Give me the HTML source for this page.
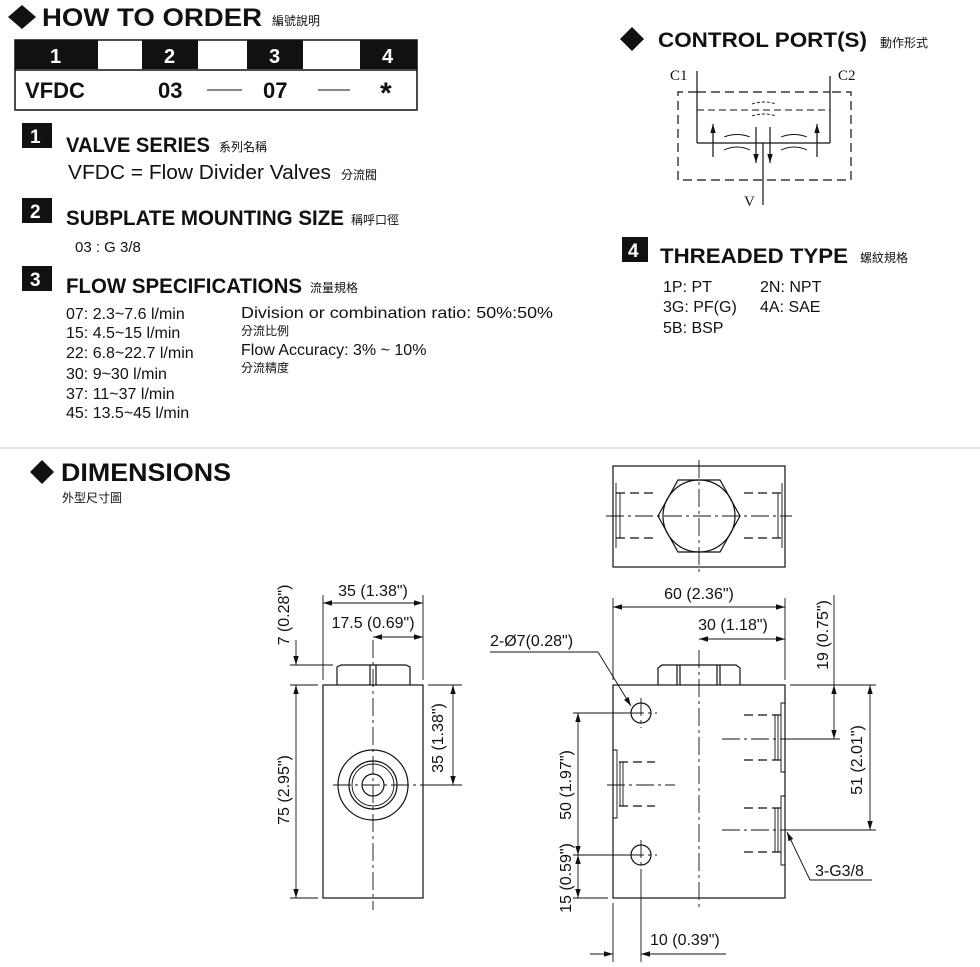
<!DOCTYPE html>
<html><head><meta charset="utf-8"><style>
html,body{margin:0;padding:0;background:#fff;}
svg{display:block;}
text{font-family:"Liberation Sans","Noto Sans CJK TC",sans-serif;fill:#111;}
.b{font-weight:bold;}
.cj{font-family:"Noto Sans CJK TC",sans-serif;font-size:12px;}
.ser{font-family:"Liberation Serif",serif;}
.l{stroke:#111;stroke-width:1.2;fill:none;}
.t{stroke:#111;stroke-width:0.9;fill:none;}
.d{stroke:#111;stroke-width:1.2;fill:none;stroke-dasharray:9 5;}
.c{stroke:#111;stroke-width:0.9;fill:none;stroke-dasharray:18 4 3 4;}
</style></head><body>
<svg width="980" height="967" viewBox="0 0 980 967" xmlns="http://www.w3.org/2000/svg">
<defs>
<marker id="a" viewBox="0 0 10 10" refX="10" refY="5" markerWidth="9" markerHeight="9" orient="auto-start-reverse" markerUnits="userSpaceOnUse"><path d="M0,2 L10,5 L0,8 z" fill="#111"/></marker>
</defs>
<path d="M8,17 L22,5 L36,17 L22,29 z" fill="#111"/>
<text x="42" y="26" class="b" font-size="25" textLength="220" lengthAdjust="spacingAndGlyphs">HOW TO  ORDER</text>
<text x="272" y="25" class="cj">編號說明</text>
<rect x="15" y="40" width="402" height="70" fill="#fff" stroke="#111" stroke-width="1.5"/>
<rect x="15" y="40" width="83" height="29" fill="#111"/>
<rect x="142" y="40" width="56" height="29" fill="#111"/>
<rect x="247" y="40" width="56" height="29" fill="#111"/>
<rect x="360" y="40" width="57" height="29" fill="#111"/>
<line x1="15" y1="70" x2="417" y2="70" stroke="#111" stroke-width="1.5"/>
<g class="b" font-size="20"><text x="50" y="63" style="fill:#fff">1</text><text x="164" y="63" style="fill:#fff">2</text><text x="269" y="63" style="fill:#fff">3</text><text x="382" y="63" style="fill:#fff">4</text></g>
<text x="25" y="98" class="b" font-size="22">VFDC</text>
<text x="158" y="98" class="b" font-size="22">03</text>
<line x1="207" y1="90" x2="242" y2="90" class="t"/>
<text x="263" y="98" class="b" font-size="22">07</text>
<line x1="318" y1="90" x2="350" y2="90" class="t"/>
<text x="380" y="103" class="b" font-size="30">*</text>
<rect x="22" y="123" width="30" height="25" fill="#111"/><text x="30" y="143" class="b" font-size="19" style="fill:#fff">1</text>
<text x="66" y="152" class="b" font-size="21" textLength="144" lengthAdjust="spacingAndGlyphs">VALVE SERIES</text>
<text x="219" y="151" class="cj">系列名稱</text>
<text x="68" y="179" font-size="20" textLength="263" lengthAdjust="spacingAndGlyphs">VFDC = Flow Divider Valves</text>
<text x="341" y="179" class="cj">分流閥</text>
<rect x="22" y="198" width="30" height="25" fill="#111"/><text x="30" y="218" class="b" font-size="19" style="fill:#fff">2</text>
<text x="66" y="225" class="b" font-size="21" textLength="278" lengthAdjust="spacingAndGlyphs">SUBPLATE MOUNTING SIZE</text>
<text x="351" y="224" class="cj">稱呼口徑</text>
<text x="75" y="252" font-size="15">03 : G 3/8</text>
<rect x="22" y="266" width="30" height="25" fill="#111"/><text x="30" y="286" class="b" font-size="19" style="fill:#fff">3</text>
<text x="66" y="293" class="b" font-size="21" textLength="236" lengthAdjust="spacingAndGlyphs">FLOW SPECIFICATIONS</text>
<text x="310" y="292" class="cj">流量規格</text>
<g font-size="16">
<text x="66" y="319">07: 2.3~7.6 l/min</text>
<text x="66" y="338">15: 4.5~15 l/min</text>
<text x="66" y="358">22: 6.8~22.7 l/min</text>
<text x="66" y="379">30: 9~30 l/min</text>
<text x="66" y="399">37: 11~37 l/min</text>
<text x="66" y="418">45: 13.5~45 l/min</text>
<text x="241" y="318" textLength="312" lengthAdjust="spacingAndGlyphs">Division or combination ratio: 50%:50%</text>
<text x="241" y="355">Flow Accuracy: 3% ~ 10%</text>
</g>
<text x="241" y="335" class="cj">分流比例</text>
<text x="241" y="372" class="cj">分流精度</text>
<path d="M620,39 L632,27 L644,39 L632,51 z" fill="#111"/>
<text x="658" y="47" class="b" font-size="21" textLength="209" lengthAdjust="spacingAndGlyphs">CONTROL PORT(S)</text>
<text x="880" y="47" class="cj">動作形式</text>
<text x="670" y="80" class="ser" font-size="15">C1</text>
<text x="838" y="80" class="ser" font-size="15">C2</text>
<text x="744" y="206" class="ser" font-size="15">V</text>
<line x1="697" y1="71" x2="697" y2="143" class="l"/>
<line x1="830" y1="76" x2="830" y2="143" class="l"/>
<line x1="697" y1="143" x2="830" y2="143" class="l"/>
<line x1="697" y1="110" x2="830" y2="110" stroke="#111" stroke-width="1" stroke-dasharray="7 4"/>
<path d="M697,92 H678 V180 H851 V92 H830" class="d"/>
<line x1="697" y1="92" x2="830" y2="92" class="d"/>
<line x1="763" y1="143" x2="763" y2="205" class="l"/>
<line x1="713" y1="157" x2="713" y2="124" class="l" marker-end="url(#a)"/>
<line x1="817" y1="157" x2="817" y2="124" class="l" marker-end="url(#a)"/>
<line x1="756" y1="127" x2="756" y2="163" class="l" marker-end="url(#a)"/>
<line x1="770" y1="127" x2="770" y2="163" class="l" marker-end="url(#a)"/>
<path d="M724,137 Q737,132 750,137 M724,150 Q737,144 750,150 M781,137 Q794,132 807,137 M781,150 Q794,144 807,150" class="t"/>
<path d="M752,104 Q764,100 776,104 M752,116 Q764,112 776,116" class="t" stroke-dasharray="3 2"/>
<rect x="622" y="237" width="26" height="25" fill="#111"/><text x="628" y="257" class="b" font-size="19" style="fill:#fff">4</text>
<text x="660" y="263" class="b" font-size="21" textLength="188" lengthAdjust="spacingAndGlyphs">THREADED TYPE</text>
<text x="860" y="262" class="cj">螺紋規格</text>
<g font-size="16">
<text x="663" y="292">1P: PT</text><text x="760" y="292">2N: NPT</text>
<text x="663" y="312">3G: PF(G)</text><text x="760" y="312">4A: SAE</text>
<text x="663" y="333">5B: BSP</text>
</g>
<line x1="0" y1="448" x2="980" y2="448" stroke="#ccc" stroke-width="1"/>
<path d="M30,472 L42,460 L54,472 L42,484 z" fill="#111"/>
<text x="61" y="481" class="b" font-size="25" textLength="170" lengthAdjust="spacingAndGlyphs">DIMENSIONS</text>
<text x="62" y="502" class="cj">外型尺寸圖</text>
<rect x="613" y="466" width="172" height="101" class="l"/>
<path d="M658,516 L678,480 L720,480 L740,516 L720,552 L678,552 z" class="l"/>
<circle cx="699" cy="516" r="36" class="l"/>
<line x1="699" y1="460" x2="699" y2="572" class="c"/>
<line x1="606" y1="516" x2="792" y2="516" class="c"/>
<path d="M616,493 H654 M616,538 H654 M744,493 H782 M744,538 H782" class="d"/>
<path d="M616,483 V548 M620,493 V538 M782,483 V548 M778,493 V538" class="t"/>
<rect x="323" y="685" width="100" height="213" class="l"/>
<path d="M337,685 V667 L341,665 H406 L410,667 V685 M370,665 V685 M376,665 V685" class="l"/>
<line x1="373" y1="640" x2="373" y2="910" class="c"/>
<circle cx="373" cy="785" r="35" class="l"/>
<circle cx="373" cy="785" r="24" class="l"/>
<circle cx="373" cy="785" r="21" class="t"/>
<circle cx="373" cy="785" r="11" class="l"/>
<line x1="333" y1="785" x2="460" y2="785" class="c"/>
<path d="M323,595 V680 M423,595 V680" class="t"/>
<line x1="323" y1="603" x2="423" y2="603" class="t" marker-start="url(#a)" marker-end="url(#a)"/>
<text x="373" y="596" font-size="16" text-anchor="middle">35 (1.38")</text>
<line x1="373" y1="637" x2="423" y2="637" class="t" marker-start="url(#a)" marker-end="url(#a)"/>
<text x="373" y="628" font-size="16" text-anchor="middle">17.5 (0.69")</text>
<path d="M290,665 H333 M290,685 H318 M428,685 H462 M428,785 H462 M290,898 H318" class="t"/>
<line x1="296" y1="640" x2="296" y2="665" class="t" marker-end="url(#a)"/>
<line x1="296" y1="685" x2="296" y2="898" class="t" marker-start="url(#a)" marker-end="url(#a)"/>
<line x1="453" y1="685" x2="453" y2="785" class="t" marker-start="url(#a)" marker-end="url(#a)"/>
<text transform="translate(289,615) rotate(-90)" font-size="16" text-anchor="middle">7 (0.28")</text>
<text transform="translate(289,790) rotate(-90)" font-size="16" text-anchor="middle">75 (2.95")</text>
<text transform="translate(443,738) rotate(-90)" font-size="16" text-anchor="middle">35 (1.38")</text>
<rect x="613" y="685" width="172" height="213" class="l"/>
<path d="M658,685 V668 L662,665 H736 L740,668 V685 M677,665 V685 M680,665 V685 M717,665 V685 M720,665 V685" class="l"/>
<line x1="699" y1="650" x2="699" y2="910" class="c"/>
<circle cx="641" cy="713" r="10" class="l"/><circle cx="641" cy="855" r="10" class="l"/>
<path d="M626,713 H657 M641,698 V728 M626,855 H657 M641,840 V870" class="c"/>
<path d="M619,762 H655 M619,806 H655" class="d"/>
<path d="M613,750 H617 V818 H613 M620,762 V806 M623,762 V806" class="t"/>
<line x1="607" y1="785" x2="675" y2="785" class="c"/>
<path d="M744,715 H781 M744,760 H781 M744,808 H781 M744,852 H781" class="d"/>
<path d="M785,703 H781 V772 H785 M778,715 V760 M775,715 V760 M785,796 H781 V865 H785 M778,808 V852 M775,808 V852" class="t"/>
<path d="M722,739 H790 M722,830 H790" class="c"/>
<path d="M613,598 V680 M785,598 V680" class="t"/>
<line x1="613" y1="607" x2="785" y2="607" class="t" marker-start="url(#a)" marker-end="url(#a)"/>
<text x="699" y="599" font-size="16" text-anchor="middle">60 (2.36")</text>
<line x1="699" y1="639" x2="785" y2="639" class="t" marker-start="url(#a)" marker-end="url(#a)"/>
<text x="733" y="630" font-size="16" text-anchor="middle">30 (1.18")</text>
<path d="M790,685 H876 M790,739 H840 M790,830 H876" class="t"/>
<line x1="834" y1="595" x2="834" y2="685" class="t"/>
<line x1="834" y1="685" x2="834" y2="739" class="t" marker-start="url(#a)" marker-end="url(#a)"/>
<line x1="870" y1="685" x2="870" y2="830" class="t" marker-start="url(#a)" marker-end="url(#a)"/>
<text transform="translate(828,635) rotate(-90)" font-size="16" text-anchor="middle">19 (0.75")</text>
<text transform="translate(862,760) rotate(-90)" font-size="16" text-anchor="middle">51 (2.01")</text>
<text x="490" y="646" font-size="16">2-Ø7(0.28")</text>
<path d="M490,652 H598" class="t"/>
<line x1="598" y1="652" x2="631" y2="706" class="t" marker-end="url(#a)"/>
<path d="M573,713 H630 M573,855 H630 M573,898 H608" class="t"/>
<line x1="578" y1="713" x2="578" y2="855" class="t" marker-start="url(#a)" marker-end="url(#a)"/>
<line x1="578" y1="855" x2="578" y2="898" class="t" marker-start="url(#a)" marker-end="url(#a)"/>
<text transform="translate(571,785) rotate(-90)" font-size="16" text-anchor="middle">50 (1.97")</text>
<text transform="translate(571,878) rotate(-90)" font-size="16" text-anchor="middle">15 (0.59")</text>
<path d="M613,903 V962 M641,870 V962" class="t"/>
<line x1="590" y1="954" x2="613" y2="954" class="t" marker-end="url(#a)"/>
<line x1="666" y1="954" x2="641" y2="954" class="t" marker-end="url(#a)"/>
<line x1="641" y1="954" x2="726" y2="954" class="t"/>
<text x="650" y="945" font-size="16">10 (0.39")</text>
<line x1="810" y1="880" x2="787" y2="832" class="t" marker-end="url(#a)"/>
<path d="M810,880 H872" class="t"/>
<text x="815" y="876" font-size="16">3-G3/8</text>
</svg>
</body></html>
